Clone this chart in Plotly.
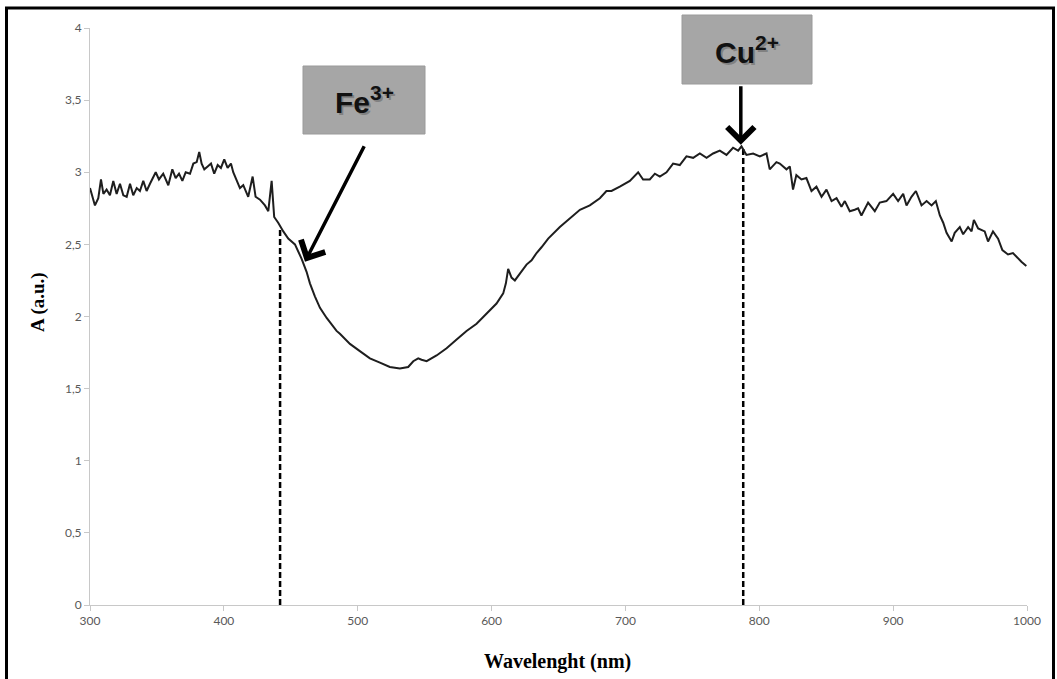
import plotly.graph_objects as go

# ---- data ----
wavelength = [
    300.0, 303.7, 306.2, 308.2, 310.0, 312.4, 314.9, 317.4, 319.9, 322.4,
    324.9, 327.4, 329.9, 332.3, 334.9, 337.3, 339.8, 342.3, 344.8, 347.3,
    349.1, 351.5, 354.7, 358.5, 361.5, 364.0, 366.5, 369.0, 371.5, 374.7,
    377.2, 379.7, 381.6, 383.4, 385.4, 387.9, 390.4, 392.8, 395.4, 397.8,
    400.3, 402.8, 405.3, 407.0, 409.5, 412.0, 414.5, 418.2, 421.5, 423.7,
    427.0, 430.7, 433.2, 435.7, 437.6, 440.6, 444.4, 448.1, 453.1, 458.1,
    461.8, 464.3, 468.0, 471.8, 476.8, 484.2, 486.7, 494.2, 501.6, 509.1,
    516.6, 524.0, 531.5, 537.7, 541.5, 545.2, 547.7, 551.5, 558.9, 566.4,
    573.9, 581.3, 588.8, 596.3, 603.7, 608.7, 610.7, 612.4, 614.9, 617.4,
    622.4, 626.1, 629.9, 633.6, 637.3, 642.3, 651.0, 658.5, 666.0, 673.4,
    680.9, 685.8, 689.6, 695.8, 703.3, 709.5, 713.2, 718.2, 722.0, 725.7,
    730.7, 735.6, 740.6, 745.6, 750.6, 755.6, 760.6, 765.5, 770.5, 775.5,
    780.4, 784.2, 786.7, 790.4, 795.4, 800.4, 805.4, 807.8, 812.8, 815.3,
    820.3, 822.8, 825.2, 827.7, 831.5, 835.2, 839.0, 842.7, 846.5, 850.2,
    854.0, 857.7, 861.4, 863.9, 867.6, 871.3, 873.8, 876.3, 881.3, 886.3,
    890.0, 895.0, 900.0, 903.7, 907.5, 910.0, 913.7, 917.0, 921.2, 925.0,
    928.7, 931.9, 934.9, 937.4, 939.9, 943.7, 946.0, 949.8, 952.3, 956.0,
    958.6, 960.3, 963.5, 968.4, 970.9, 974.6, 978.4, 981.6, 985.8, 989.5,
    993.3, 995.8, 999.5,
]
absorbance = [
    2.89, 2.77, 2.82, 2.95, 2.85, 2.88, 2.84, 2.94, 2.85, 2.92,
    2.84, 2.83, 2.92, 2.84, 2.89, 2.87, 2.94, 2.87, 2.92, 2.97,
    3.00, 2.95, 2.99, 2.91, 3.02, 2.96, 2.99, 2.94, 3.00, 2.99,
    3.06, 3.07, 3.14, 3.06, 3.02, 3.04, 3.06, 2.99, 3.05, 3.03,
    3.09, 3.03, 3.06, 3.00, 2.95, 2.89, 2.91, 2.83, 2.97, 2.83,
    2.81, 2.77, 2.73, 2.94, 2.69, 2.65, 2.59, 2.54, 2.50, 2.40,
    2.31, 2.23, 2.14, 2.06, 1.99, 1.90, 1.88, 1.81, 1.76, 1.71,
    1.68, 1.65, 1.64, 1.65, 1.69, 1.71, 1.70, 1.69, 1.73, 1.78,
    1.84, 1.90, 1.95, 2.02, 2.09, 2.16, 2.23, 2.33, 2.27, 2.25,
    2.31, 2.36, 2.39, 2.44, 2.48, 2.54, 2.62, 2.68, 2.74, 2.77,
    2.82, 2.87, 2.87, 2.90, 2.94, 3.00, 2.95, 2.95, 2.99, 2.97,
    3.00, 3.06, 3.05, 3.11, 3.10, 3.13, 3.10, 3.13, 3.15, 3.12,
    3.17, 3.15, 3.18, 3.12, 3.13, 3.11, 3.13, 3.02, 3.07, 3.06,
    3.02, 3.04, 2.88, 2.98, 2.95, 2.96, 2.87, 2.90, 2.83, 2.88,
    2.80, 2.82, 2.76, 2.80, 2.73, 2.74, 2.75, 2.70, 2.79, 2.73,
    2.79, 2.80, 2.85, 2.80, 2.85, 2.77, 2.83, 2.87, 2.77, 2.80,
    2.77, 2.80, 2.70, 2.65, 2.58, 2.52, 2.58, 2.62, 2.57, 2.62,
    2.59, 2.67, 2.61, 2.59, 2.52, 2.59, 2.54, 2.46, 2.43, 2.44,
    2.40, 2.38, 2.35,
]

ion_labels = ["Fe<sup>3+</sup>", "Cu<sup>2+</sup>"]
ion_wavelength = [442, 788]        # dashed marker lines
ion_absorbance = [2.61, 3.17]      # top of dashed lines
arrow_tip_x = [460.6, 786.2]
arrow_tip_y = [2.38, 3.19]

x_ticks = [300, 400, 500, 600, 700, 800, 900, 1000]
y_ticks = [0, 0.5, 1, 1.5, 2, 2.5, 3, 3.5, 4]

# ---- figure ----
L, R, T, B = 90, 30, 28, 74
W, H = 1057, 679
PW, PH = W - L - R, H - T - B


def px_x(p):
    return (p - L) / PW


def px_y(p):
    return (H - B - p) / PH


fig = go.Figure()

for wl, top in zip(ion_wavelength, ion_absorbance):
    fig.add_trace(go.Scatter(
        x=[wl, wl], y=[0, top], mode="lines",
        line=dict(color="black", width=2.5, dash="6px,3px"),
        showlegend=False, hoverinfo="skip"))

fig.add_trace(go.Scatter(
    x=wavelength, y=absorbance, mode="lines",
    line=dict(color="#1e1e1e", width=2),
    showlegend=False))

axis_common = dict(
    showgrid=False, zeroline=False, showline=True, linecolor="#c8c8c8",
    linewidth=1, ticks="outside", ticklen=5, tickcolor="#c8c8c8",
    tickfont=dict(family="Lato, Open Sans, sans-serif", size=12, color="#595959"),
)

fig.update_xaxes(range=[300, 1000], tickvals=x_ticks, **axis_common)
fig.update_yaxes(range=[0, 4], tickvals=y_ticks, **axis_common)

shapes = []
# outer frame
shapes.append(dict(type="rect", xref="paper", yref="paper",
                   x0=px_x(6.5), x1=px_x(1053.5), y0=px_y(690), y1=px_y(8),
                   line=dict(color="black", width=3), fillcolor="rgba(0,0,0,0)"))
# label boxes
boxes = [(303, 425, 66, 134), (682, 812, 15, 84)]
for (x0, x1, y0, y1) in boxes:
    shapes.append(dict(type="rect", xref="paper", yref="paper",
                       x0=px_x(x0), x1=px_x(x1), y0=px_y(y1), y1=px_y(y0),
                       line=dict(color="#9a9a9a", width=1), fillcolor="#a6a6a6"))

annotations = []
for lab, (x0, x1, y0, y1) in zip(ion_labels, boxes):
    cx, cy = px_x((x0 + x1) / 2), px_y((y0 + y1) / 2)
    for shift, col in ((2, "rgba(0,0,0,0.22)"), (0, "#111111")):
        annotations.append(dict(xref="paper", yref="paper", x=cx, y=cy,
                                xanchor="center", yanchor="middle",
                                text="<b>" + lab + "</b>", showarrow=False,
                                xshift=shift, yshift=-shift,
                                font=dict(family="Liberation Sans, Arial", size=30,
                                          color=col)))

# arrows
arrow_offsets = [(60, -117), (0, -60)]
for tx, ty, (ax, ay) in zip(arrow_tip_x, arrow_tip_y, arrow_offsets):
    annotations.append(dict(x=tx, y=ty, xref="x", yref="y", text="",
                            showarrow=True, ax=ax, ay=ay, arrowhead=4,
                            arrowsize=1.5, arrowwidth=3.5, arrowcolor="black",
                            standoff=0))

# axis titles
annotations.append(dict(xref="paper", yref="paper", x=px_x(557), y=px_y(661),
                        xanchor="center", yanchor="middle",
                        text="<b>Wavelenght (nm)</b>", showarrow=False,
                        font=dict(family="Liberation Serif, Times New Roman", size=20,
                                  color="black")))
annotations.append(dict(xref="paper", yref="paper", x=px_x(38), y=px_y(302),
                        xanchor="center", yanchor="middle",
                        text="<b>A (a.u.)</b>", showarrow=False, textangle=-90,
                        font=dict(family="Liberation Serif, Times New Roman", size=19,
                                  color="black")))

fig.update_layout(
    width=W, height=H,
    margin=dict(l=L, r=R, t=T, b=B),
    paper_bgcolor="white", plot_bgcolor="white",
    separators=",.",
    shapes=shapes, annotations=annotations,
    showlegend=False,
)

fig.write_html("out.html",
               config={"displayModeBar": False},
               post_script="document.body.style.margin='0';document.body.style.overflow='hidden';")
